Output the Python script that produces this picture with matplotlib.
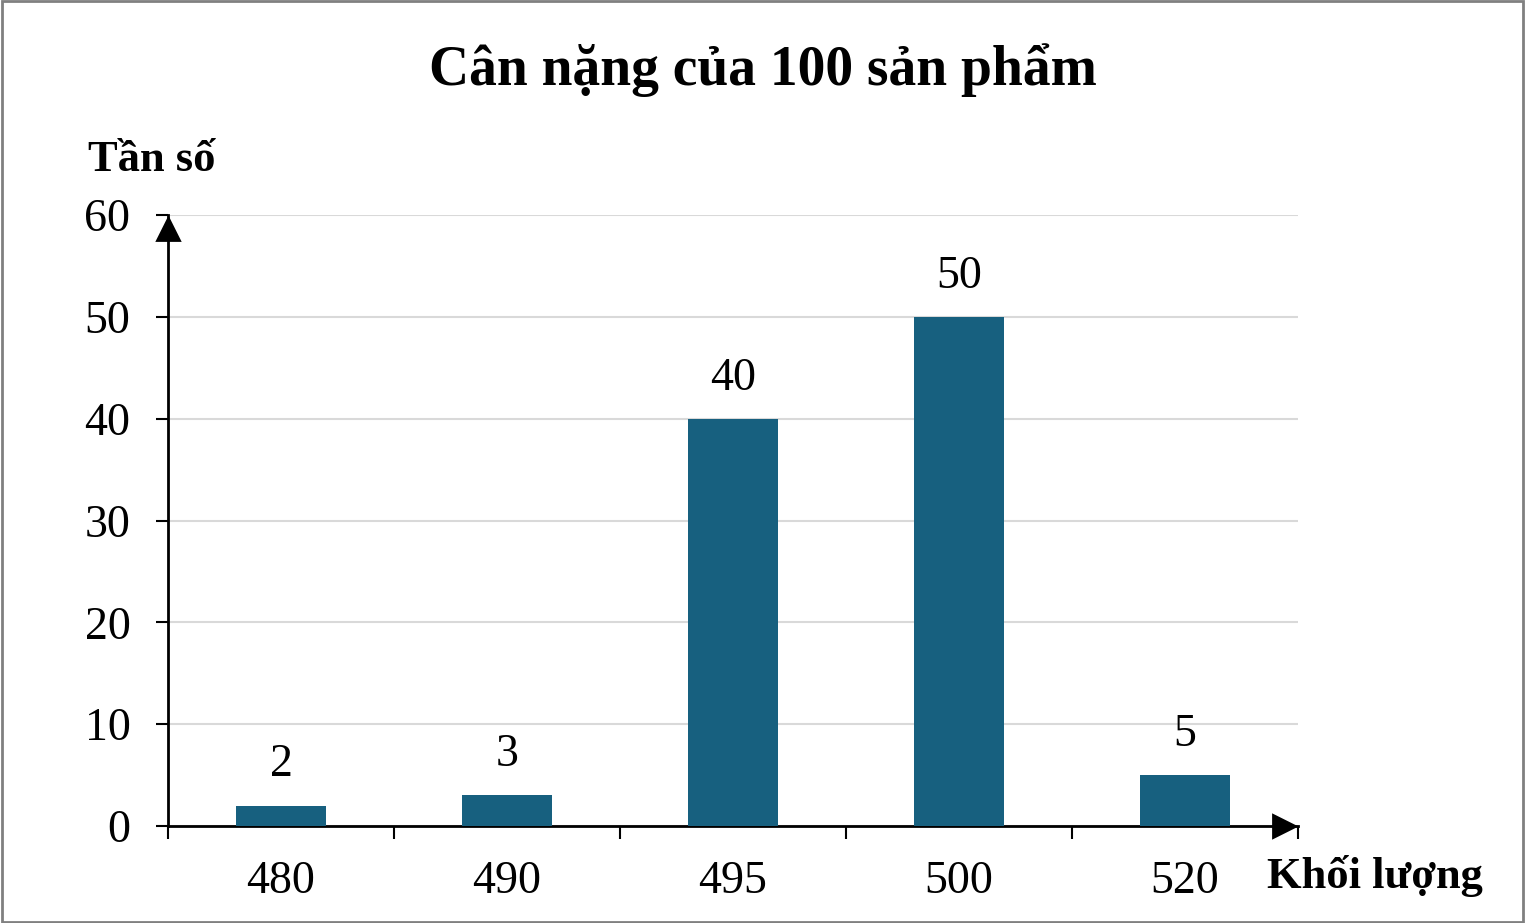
import numpy as np
import matplotlib.pyplot as plt
from matplotlib.patches import Rectangle

# dati
khoi_luong = ['480', '490', '495', '500', '520']
tan_so = [2, 3, 40, 50, 5]
y_ticks = [0, 10, 20, 30, 40, 50, 60]

plt.rcParams['font.family'] = ['Liberation Serif', 'DejaVu Serif']

fig = plt.figure(figsize=(15.25, 9.23), dpi=100)
ax = fig.add_axes([168/1525, 97/923, 1130/1525, 611/923])

x = np.arange(len(khoi_luong))
ax.bar(x, tan_so, width=0.40, color='#17607f', zorder=3)
for xi, v in zip(x, tan_so):
    ax.annotate(str(v), (xi, v), xytext=(0, 21), textcoords='offset points',
                ha='center', va='baseline', fontsize=33)

ax.set_xlim(-0.5, len(khoi_luong) - 0.5)
ax.set_ylim(0, 60)
ax.set_yticks(y_ticks)
ax.set_yticklabels([str(t) for t in y_ticks], fontsize=33)
ax.yaxis.grid(True, color='#d9d9d9', linewidth=1.5, zorder=0)

# tick tra le categorie sull'asse x
ax.set_xticks(np.arange(-0.5, len(khoi_luong)), minor=False)
ax.set_xticklabels([])
ax.set_xticks(x, minor=True)
ax.set_xticklabels(khoi_luong, minor=True, fontsize=33)
ax.tick_params(axis='x', which='major', length=9, width=1.5, direction='out')
ax.tick_params(axis='x', which='minor', length=0, pad=25)
ax.tick_params(axis='y', length=9, width=1.5, direction='out', pad=18)

for s in ['top', 'right']:
    ax.spines[s].set_visible(False)
ax.spines['left'].set_linewidth(2)
ax.spines['bottom'].set_linewidth(2)

# frecce degli assi (punta sull'estremo dell'asse)
freccia_su = [(0, 0), (-0.5, -1), (0.5, -1), (0, 0)]
freccia_dx = [(0, 0), (-1, 0.5), (-1, -0.5), (0, 0)]
ax.plot(1, 0, marker=freccia_dx, color='black', markersize=38, transform=ax.transAxes,
        clip_on=False, zorder=5, markeredgewidth=0)
ax.plot(0, 1, marker=freccia_su, color='black', markersize=38, transform=ax.transAxes,
        clip_on=False, zorder=5, markeredgewidth=0)

fig.text(0.5, 1 - 70/923, 'Cân nặng của 100 sản phẩm', ha='center', va='center',
         fontsize=40, fontweight='bold')
fig.text(88/1525, 1 - 160/923, 'Tần số', ha='left', va='center',
         fontsize=32, fontweight='bold')
fig.text(1267/1525, 1 - 876/923, 'Khối lượng', ha='left', va='center',
         fontsize=32, fontweight='bold')

fig.patches.append(Rectangle((0.001, 0.001), 0.998, 0.998, transform=fig.transFigure,
                             fill=False, edgecolor='#808080', linewidth=2))

plt.savefig('out.png', dpi=100)
